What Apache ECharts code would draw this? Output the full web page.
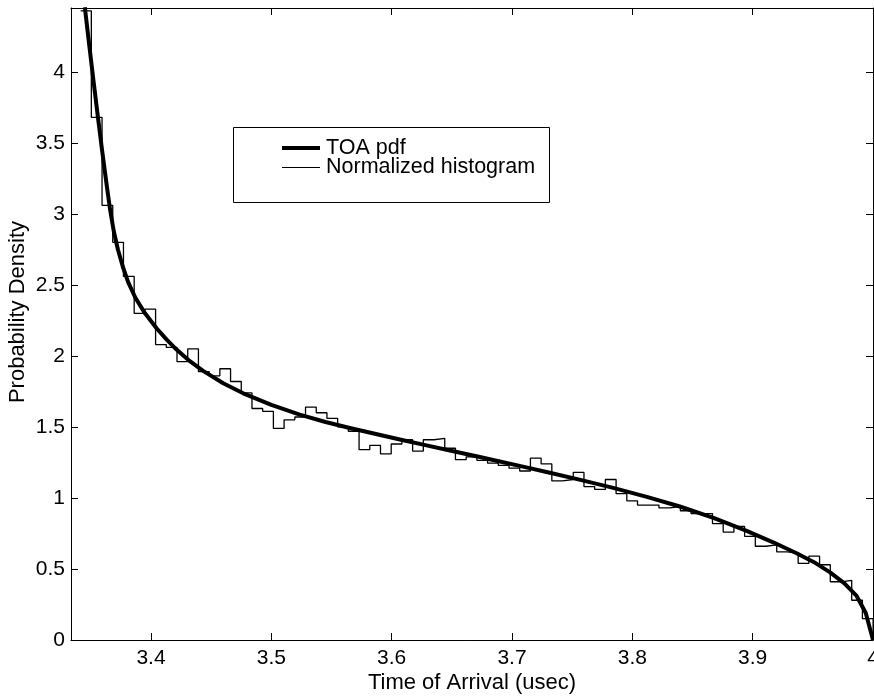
<!DOCTYPE html>
<html>
<head>
<meta charset="utf-8">
<script src="https://cdn.jsdelivr.net/npm/echarts@6/dist/echarts.min.js"></script>
<style>
  html, body { margin: 0; padding: 0; background: #fff; }
  #chart { width: 874px; height: 696px; }
</style>
</head>
<body>
<div id="chart"></div>
<script>
// ---- data ----
const xTitle = 'Time of Arrival (usec)';
const yTitle = 'Probability Density';
const legendNames = ['TOA pdf', 'Normalized histogram'];

// TOA pdf curve (x in usec, density)
const curveX = [3.3450, 3.3485, 3.3520, 3.3556, 3.3593, 3.3632, 3.3660, 3.3690, 3.3725, 3.3765,
                3.3810, 3.3870, 3.3950, 3.4046, 3.4130, 3.4212, 3.4320, 3.4433, 3.4600, 3.4766,
                3.5000, 3.5236, 3.5450, 3.5652, 3.5860, 3.6068, 3.6280, 3.6484, 3.6733, 3.6899,
                3.7100, 3.7287, 3.7560, 3.7841, 3.8120, 3.8395, 3.8680, 3.8950, 3.9170, 3.9365,
                3.9510, 3.9643, 3.9760, 3.9864, 3.9940, 4.0000];
const curveY = [4.455, 4.200, 3.950, 3.700, 3.450, 3.200, 3.030, 2.880, 2.750, 2.630,
                2.520, 2.410, 2.300, 2.195, 2.115, 2.045, 1.965, 1.895, 1.808, 1.737,
                1.655, 1.587, 1.535, 1.493, 1.452, 1.412, 1.372, 1.334, 1.288, 1.257,
                1.219, 1.183, 1.129, 1.071, 1.008, 0.940, 0.858, 0.768, 0.688, 0.611,
                0.548, 0.476, 0.400, 0.310, 0.190, 0.000];

// normalized histogram: first bin edge, bin width, bin heights
const binStart = 3.3415;
const binWidth = 0.0089;
const histHeights = [
  4.43, 3.68, 3.06, 2.80, 2.56, 2.30, 2.33, 2.08, 2.06, 1.96,
  2.05, 1.89, 1.86, 1.91, 1.82, 1.74, 1.63, 1.61, 1.49, 1.55,
  1.57, 1.64, 1.60, 1.56, 1.50, 1.47, 1.34, 1.37, 1.31, 1.38,
  1.41, 1.33, 1.41, 1.42, 1.35, 1.27, 1.29, 1.265, 1.245, 1.23,
  1.21, 1.19, 1.28, 1.24, 1.12, 1.13, 1.18, 1.08, 1.06, 1.13,
  1.03, 0.98, 0.95, 0.95, 0.93, 0.94, 0.91, 0.89, 0.89, 0.82,
  0.76, 0.80, 0.73, 0.66, 0.67, 0.62, 0.61, 0.54, 0.59, 0.53,
  0.41, 0.42, 0.28, 0.15
];

const xMin = 3.3335, xMax = 4.0;
const yMin = 0, yMax = 4.45, yStep = 0.5;

// ---- build series data ----
const curveData = curveX.map((x, i) => [x, curveY[i]]);
const histData = [];
histHeights.forEach((h, i) => histData.push([binStart + i * binWidth, h]));
const binEnd = binStart + histHeights.length * binWidth;
histData.push([binEnd, histHeights[histHeights.length - 1]]);
histData.push([binEnd, 0]);

const FONT = 'Liberation Sans';
const axisCommon = {
  axisLine: { show: true, onZero: false, lineStyle: { color: '#000', width: 1 } },
  axisTick: { show: true, inside: true, length: 7, lineStyle: { color: '#000', width: 1 } },
  splitLine: { show: false }
};

// legend box geometry (layout only)
const LG = { x: 233.5, y: 127.5, w: 316, h: 75, lineX0: 282, lineX1: 320, textX: 326, row1: 148, row2: 167.5 };

const chart = echarts.init(document.getElementById('chart'), null, { renderer: 'canvas' });
chart.setOption({
  backgroundColor: '#fff',
  animation: false,
  grid: { left: 71, right: 1, top: 8, bottom: 56, containLabel: false, outerBoundsMode: 'none' },
  xAxis: [
    Object.assign({
      type: 'value', min: xMin, max: xMax, position: 'bottom',
      name: xTitle, nameLocation: 'middle', nameGap: 32, nameMoveOverlap: false,
      nameTextStyle: { fontFamily: FONT, fontSize: 22, color: '#000' },
      axisLabel: { show: true, fontFamily: FONT, fontSize: 21, color: '#000', margin: 8, showMinLabel: false }
    }, axisCommon),
    Object.assign({
      type: 'value', min: xMin, max: xMax, position: 'top',
      axisLabel: { show: false }
    }, axisCommon)
  ],
  yAxis: [
    Object.assign({
      type: 'value', min: yMin, max: yMax, interval: yStep, position: 'left',
      name: yTitle, nameLocation: 'middle', nameGap: 42, nameMoveOverlap: false,
      nameTextStyle: { fontFamily: FONT, fontSize: 22, color: '#000', padding: [0, 0, 0, 24] },
      axisLabel: { show: true, fontFamily: FONT, fontSize: 21, color: '#000', margin: 6, showMaxLabel: false }
    }, axisCommon),
    Object.assign({
      type: 'value', min: yMin, max: yMax, interval: yStep, position: 'right',
      axisLabel: { show: false }
    }, axisCommon)
  ],
  graphic: [
    { type: 'rect', z: 100, shape: { x: LG.x, y: LG.y, width: LG.w, height: LG.h },
      style: { fill: '#fff', stroke: '#000', lineWidth: 1 } },
    { type: 'line', z: 101, shape: { x1: LG.lineX0, y1: LG.row1, x2: LG.lineX1, y2: LG.row1 },
      style: { stroke: '#000', lineWidth: 4 } },
    { type: 'text', z: 101, x: LG.textX, y: LG.row1,
      style: { text: legendNames[0], fontFamily: FONT, fontSize: 21.5, fill: '#000', verticalAlign: 'middle', align: 'left' } },
    { type: 'line', z: 101, shape: { x1: LG.lineX0, y1: LG.row2, x2: LG.lineX1, y2: LG.row2 },
      style: { stroke: '#000', lineWidth: 1 } },
    { type: 'text', z: 101, x: LG.textX, y: LG.row2,
      style: { text: legendNames[1], fontFamily: FONT, fontSize: 21.5, fill: '#000', verticalAlign: 'middle', align: 'left' } }
  ],
  series: [
    {
      name: legendNames[1],
      type: 'line',
      xAxisIndex: 0, yAxisIndex: 0,
      step: 'end',
      data: histData,
      symbol: 'none',
      lineStyle: { color: '#000', width: 1.3 },
      z: 2
    },
    {
      name: legendNames[0],
      type: 'line',
      xAxisIndex: 0, yAxisIndex: 0,
      data: curveData,
      smooth: false,
      symbol: 'none',
      lineStyle: { color: '#000', width: 4, join: 'round' },
      z: 3
    }
  ]
});
</script>
</body>
</html>
